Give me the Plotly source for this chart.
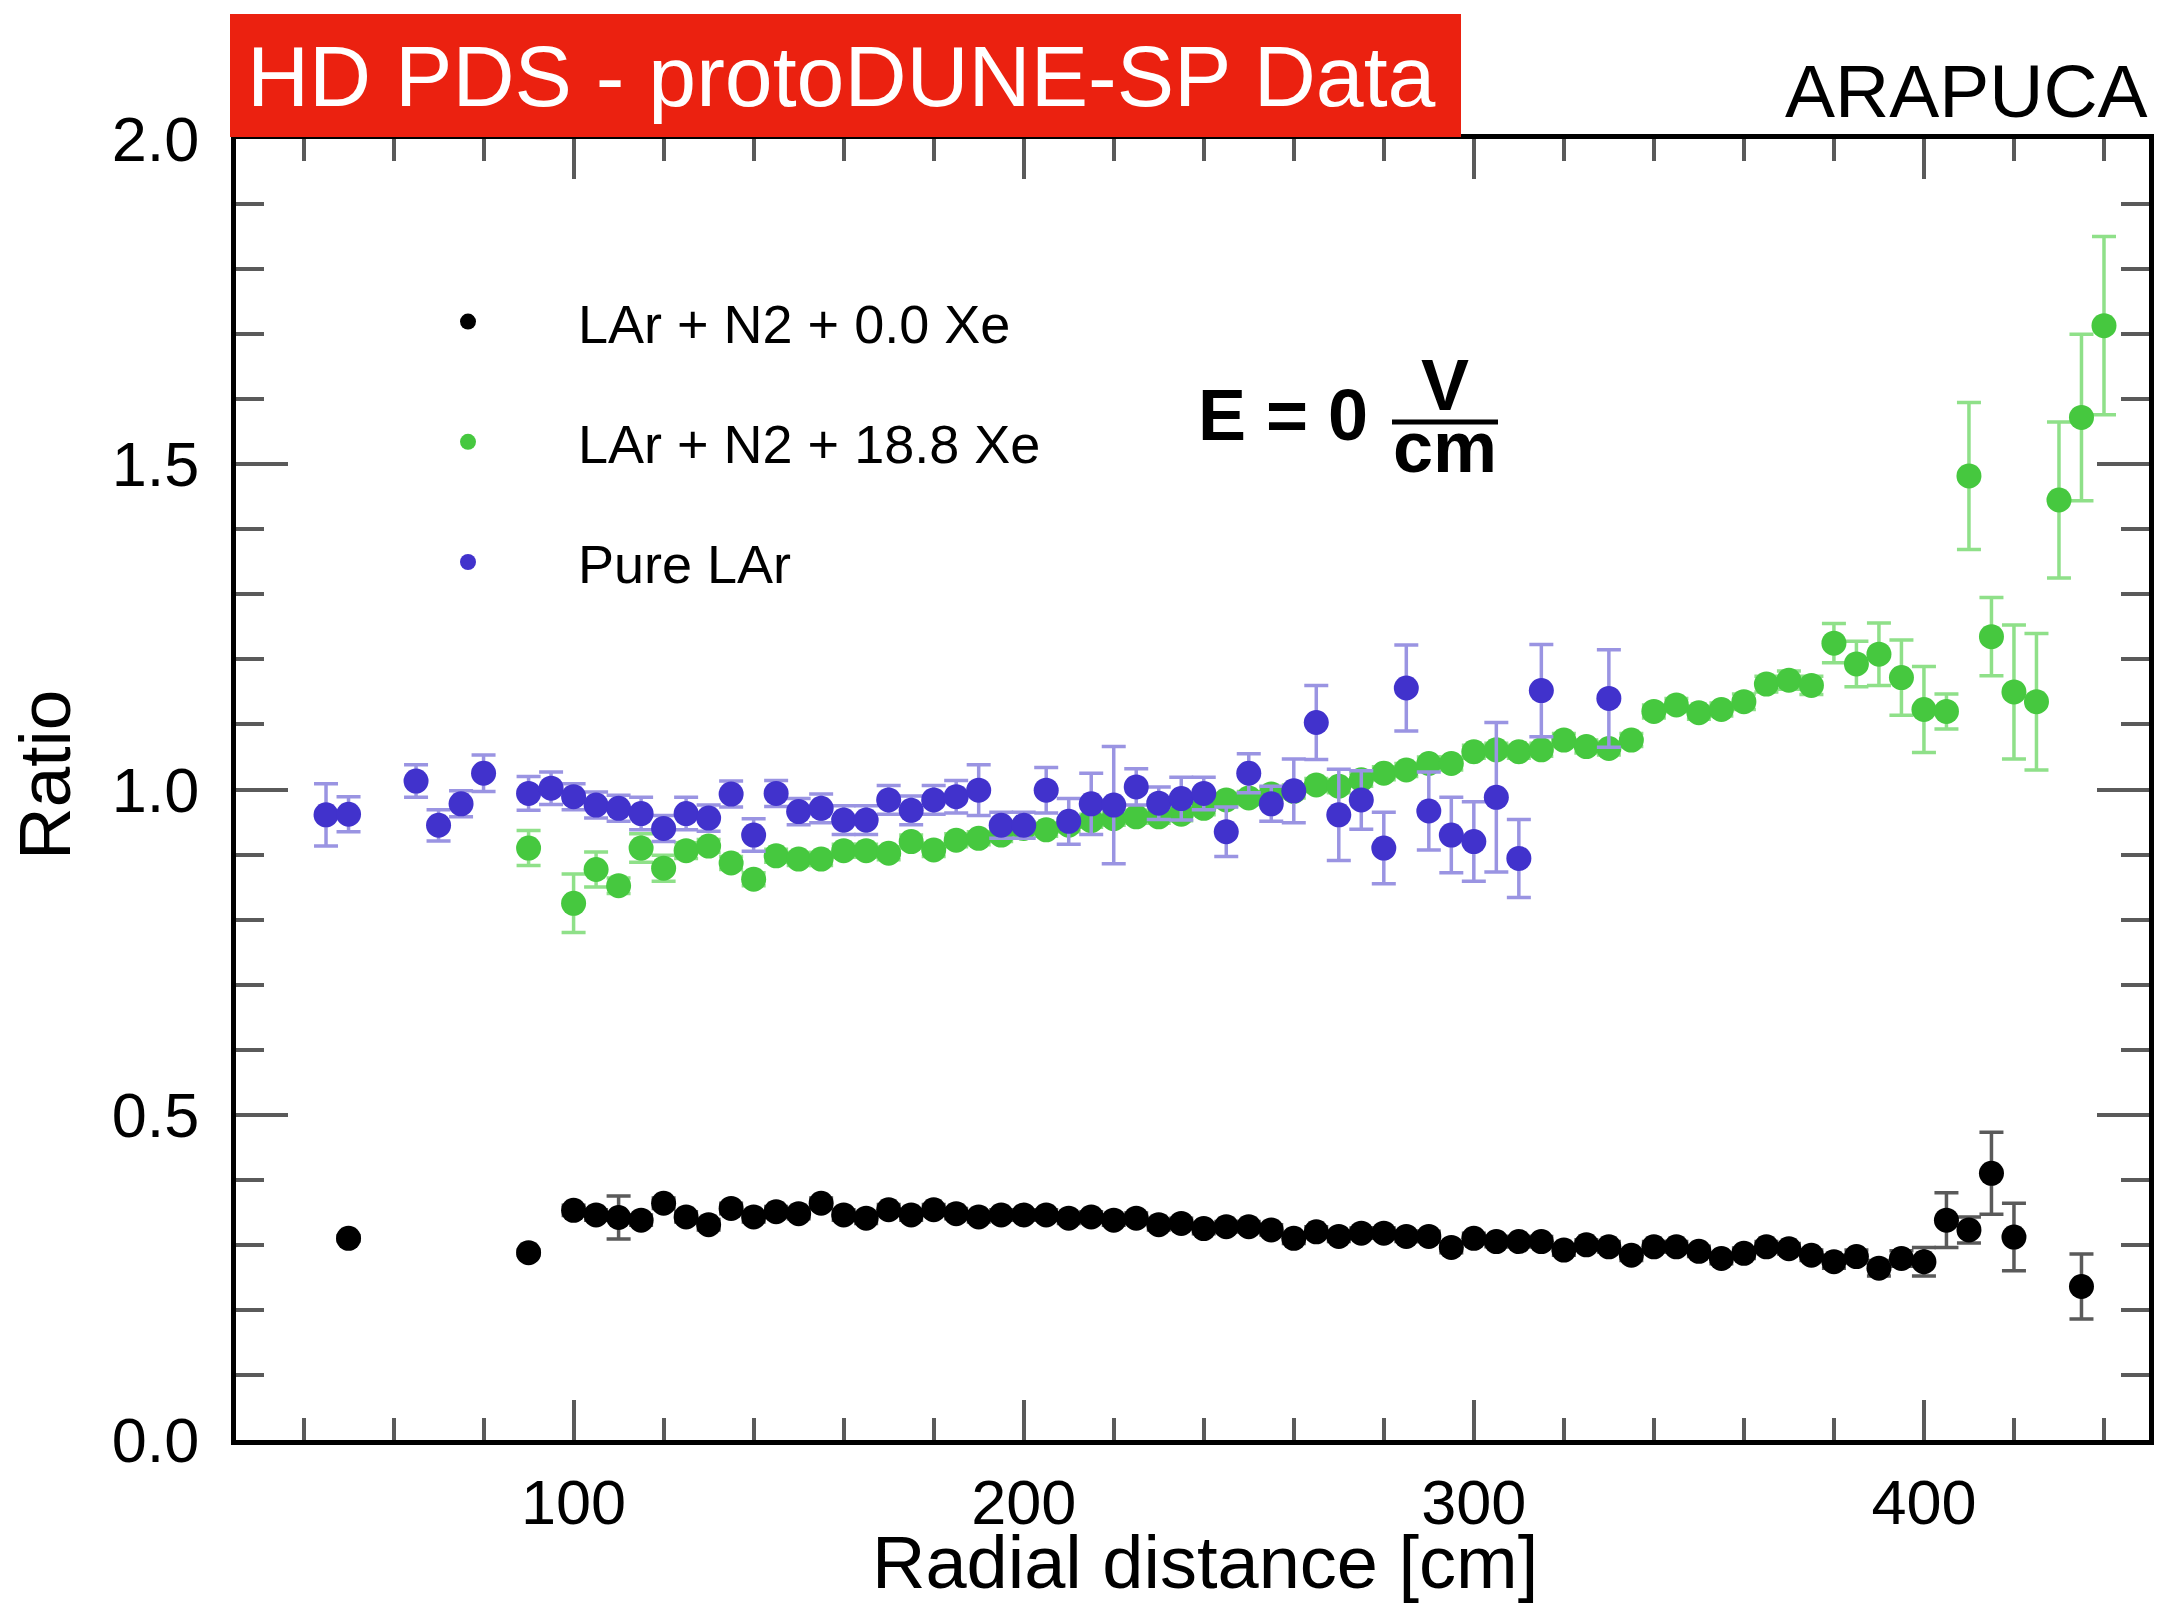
import plotly.graph_objects as go

# ---------------- data ----------------
black_x = [50, 90, 100, 105, 110, 115, 120, 125, 130, 135, 140, 145, 150, 155, 160, 165, 170, 175,
           180, 185, 190, 195, 200, 205, 210, 215, 220, 225, 230, 235, 240, 245, 250, 255, 260, 265,
           270, 275, 280, 285, 290, 295, 300, 305, 310, 315, 320, 325, 330, 335, 340, 345, 350, 355,
           360, 365, 370, 375, 380, 385, 390, 395, 400, 405, 410, 415, 420, 435]
black_y = [0.310, 0.288, 0.353, 0.346, 0.342, 0.338, 0.364, 0.343, 0.331, 0.356, 0.343, 0.351, 0.348,
           0.364, 0.346, 0.341, 0.354, 0.346, 0.354, 0.348, 0.343, 0.346, 0.346, 0.346, 0.341, 0.343,
           0.338, 0.341, 0.331, 0.333, 0.325, 0.328, 0.328, 0.323, 0.310, 0.320, 0.313, 0.318, 0.318,
           0.313, 0.313, 0.296, 0.310, 0.305, 0.305, 0.305, 0.292, 0.300, 0.297, 0.284, 0.297, 0.297,
           0.290, 0.279, 0.287, 0.297, 0.294, 0.284, 0.274, 0.282, 0.264, 0.279, 0.274, 0.338, 0.323,
           0.410, 0.312, 0.236]
black_err = [0.004, 0.004, 0.008, 0.008, 0.033, 0.008, 0.008, 0.008, 0.008, 0.008, 0.008, 0.008, 0.008,
             0.008, 0.008, 0.008, 0.008, 0.008, 0.008, 0.008, 0.008, 0.008, 0.008, 0.008, 0.008, 0.008,
             0.008, 0.008, 0.008, 0.008, 0.008, 0.008, 0.008, 0.008, 0.008, 0.008, 0.008, 0.008, 0.008,
             0.008, 0.008, 0.008, 0.008, 0.008, 0.008, 0.008, 0.008, 0.008, 0.008, 0.008, 0.008, 0.008,
             0.008, 0.008, 0.008, 0.008, 0.008, 0.008, 0.010, 0.010, 0.012, 0.012, 0.022, 0.042, 0.020,
             0.063, 0.052, 0.050]

green_x = [90, 100, 105, 110, 115, 120, 125, 130, 135, 140, 145, 150, 155, 160, 165, 170, 175, 180,
           185, 190, 195, 200, 205, 210, 215, 220, 225, 230, 235, 240, 245, 250, 255, 260, 265, 270,
           275, 280, 285, 290, 295, 300, 305, 310, 315, 320, 325, 330, 335, 340, 345, 350, 355, 360,
           365, 370, 375, 380, 385, 390, 395, 400, 405, 410, 415, 420, 425, 430, 435, 440]
green_y = [0.910, 0.825, 0.877, 0.852, 0.910, 0.879, 0.906, 0.913, 0.887, 0.862, 0.898, 0.893, 0.893,
           0.906, 0.906, 0.902, 0.920, 0.907, 0.922, 0.925, 0.930, 0.940, 0.938, 0.945, 0.952, 0.955,
           0.958, 0.958, 0.962, 0.971, 0.984, 0.987, 0.993, 0.997, 1.007, 1.005, 1.015, 1.025, 1.030,
           1.040, 1.040, 1.058, 1.061, 1.058, 1.061, 1.076, 1.066, 1.063, 1.076, 1.120, 1.130, 1.118,
           1.123, 1.135, 1.162, 1.168, 1.160, 1.225, 1.193, 1.208, 1.172, 1.123, 1.120, 1.482, 1.235,
           1.150, 1.135, 1.445, 1.572, 1.713]
green_err = [0.027, 0.045, 0.027, 0.012, 0.022, 0.020, 0.012, 0.010, 0.010, 0.010, 0.010, 0.010, 0.010,
             0.010, 0.010, 0.010, 0.010, 0.010, 0.010, 0.010, 0.010, 0.010, 0.010, 0.010, 0.010, 0.010,
             0.010, 0.010, 0.010, 0.010, 0.010, 0.010, 0.010, 0.010, 0.010, 0.010, 0.010, 0.010, 0.010,
             0.010, 0.010, 0.010, 0.010, 0.010, 0.010, 0.010, 0.010, 0.010, 0.010, 0.010, 0.010, 0.010,
             0.010, 0.012, 0.012, 0.014, 0.014, 0.030, 0.035, 0.048, 0.058, 0.066, 0.027, 0.113, 0.060,
             0.103, 0.105, 0.120, 0.128, 0.137]

blue_x = [45, 50, 65, 70, 75, 80, 90, 95, 100, 105, 110, 115, 120, 125, 130, 135, 140, 145, 150, 155,
          160, 165, 170, 175, 180, 185, 190, 195, 200, 205, 210, 215, 220, 225, 230, 235, 240, 245,
          250, 255, 260, 265, 270, 275, 280, 285, 290, 295, 300, 305, 310, 315, 330]
blue_y = [0.961, 0.962, 1.013, 0.945, 0.978, 1.025, 0.994, 1.002, 0.989, 0.976, 0.971, 0.963, 0.940,
          0.963, 0.956, 0.993, 0.930, 0.994, 0.966, 0.971, 0.953, 0.953, 0.984, 0.968, 0.984, 0.989,
          0.999, 0.945, 0.945, 0.999, 0.951, 0.978, 0.976, 1.004, 0.979, 0.986, 0.994, 0.935, 1.025,
          0.978, 0.998, 1.103, 0.961, 0.984, 0.910, 1.156, 0.967, 0.930, 0.920, 0.988, 0.894, 1.152,
          1.140]
blue_err = [0.048, 0.027, 0.025, 0.024, 0.020, 0.028, 0.026, 0.025, 0.020, 0.020, 0.020, 0.025, 0.020,
            0.025, 0.020, 0.020, 0.025, 0.020, 0.020, 0.022, 0.022, 0.022, 0.022, 0.022, 0.022, 0.025,
            0.039, 0.020, 0.020, 0.035, 0.035, 0.047, 0.090, 0.028, 0.025, 0.033, 0.025, 0.038, 0.030,
            0.027, 0.049, 0.057, 0.070, 0.045, 0.055, 0.066, 0.060, 0.058, 0.061, 0.115, 0.060, 0.071,
            0.075]

series_names = ["LAr + N2 + 0.0 Xe", "LAr + N2 + 18.8 Xe", "Pure LAr"]
x_ticks = [100, 200, 300, 400]
y_ticks = [0.0, 0.5, 1.0, 1.5, 2.0]

FONT = "Liberation Sans, Arial, Helvetica, sans-serif"

# ---------------- geometry (pixels) ----------------
W, H = 2177, 1613
L, R, T, B = 236, 28, 139, 173
PW, PH = W - L - R, H - T - B


def px(xp):
    return (xp - L) / PW


def py(yp):
    return (H - B - yp) / PH


fig = go.Figure()

styles = [
    (black_x, black_y, black_err, "#000000", "#5a5a5a"),
    (green_x, green_y, green_err, "#46c83f", "#8fe089"),
    (blue_x, blue_y, blue_err, "#4132cc", "#9a94e2"),
]
for i, (xs, ys, es, mc, ec) in enumerate(styles):
    fig.add_trace(go.Scatter(
        x=xs, y=ys, mode="markers", name=series_names[i],
        legendgroup=f"g{i}",
        marker=dict(size=25, color=mc, line=dict(width=0)),
        error_y=dict(type="data", array=es, visible=True, color=ec, thickness=3.5, width=12),
    ))

axis_common = dict(
    showgrid=False, zeroline=False, showline=True, linecolor="black", linewidth=5,
    mirror="allticks", ticks="inside", tickcolor="#5a5a5a", tickwidth=4,
    tickfont=dict(family=FONT, size=63, color="black"),
)

fig.update_xaxes(range=[25, 450], tickvals=x_ticks, ticktext=[str(v) for v in x_ticks],
                 ticklen=40, ticklabelstandoff=3,
                 minor=dict(dtick=20, tick0=0, ticks="inside", ticklen=22, tickcolor="#5a5a5a", tickwidth=4),
                 **axis_common)
fig.update_yaxes(range=[0, 2], tickvals=y_ticks, ticktext=[f"{v:.1f}" for v in y_ticks],
                 ticklen=52, ticklabelstandoff=19,
                 minor=dict(dtick=0.1, tick0=0, ticks="inside", ticklen=28, tickcolor="#5a5a5a", tickwidth=4),
                 **axis_common)

shapes = [
    # red banner behind title text
    dict(type="rect", xref="paper", yref="paper", x0=px(230), x1=px(1461), y0=py(137), y1=py(14),
         fillcolor="#eb2110", line=dict(width=0), layer="above"),
    # fraction bar of V/cm
    dict(type="line", xref="paper", yref="paper", x0=px(1392), x1=px(1498), y0=py(422), y1=py(422),
         line=dict(color="black", width=5)),
]

annotations = [
    dict(text="HD PDS - protoDUNE-SP Data", xref="paper", yref="paper", x=px(245), y=py(76),
         xanchor="left", yanchor="middle", showarrow=False,
         font=dict(family=FONT, size=86, color="white")),
    dict(text="ARAPUCA", xref="paper", yref="paper", x=px(2150), y=py(91),
         xanchor="right", yanchor="middle", showarrow=False,
         font=dict(family=FONT, size=75, color="black")),
    dict(text="Radial distance [cm]", xref="paper", yref="paper", x=px(1205), y=py(1562),
         xanchor="center", yanchor="middle", showarrow=False,
         font=dict(family=FONT, size=74, color="black")),
    dict(text="Ratio", xref="paper", yref="paper", x=px(44), y=py(775), textangle=-90,
         xanchor="center", yanchor="middle", showarrow=False,
         font=dict(family=FONT, size=73, color="black")),
    dict(text="<b>E = 0</b>", xref="paper", yref="paper", x=px(1283), y=py(415),
         xanchor="center", yanchor="middle", showarrow=False,
         font=dict(family=FONT, size=72, color="black")),
    dict(text="<b>V</b>", xref="paper", yref="paper", x=px(1445), y=py(385),
         xanchor="center", yanchor="middle", showarrow=False,
         font=dict(family=FONT, size=72, color="black")),
    dict(text="<b>cm</b>", xref="paper", yref="paper", x=px(1445), y=py(447),
         xanchor="center", yanchor="middle", showarrow=False,
         font=dict(family=FONT, size=72, color="black")),
]

fig.update_layout(
    width=W, height=H,
    margin=dict(l=L, r=R, t=T, b=B, pad=0),
    paper_bgcolor="white", plot_bgcolor="white",
    showlegend=True,
    legend=dict(x=px(358), y=py(280), xanchor="left", yanchor="top",
                font=dict(family=FONT, size=54, color="black"),
                bgcolor="rgba(0,0,0,0)", borderwidth=0,
                tracegroupgap=47, itemwidth=210),
    shapes=shapes, annotations=annotations,
)

fig.write_html("out.html")
